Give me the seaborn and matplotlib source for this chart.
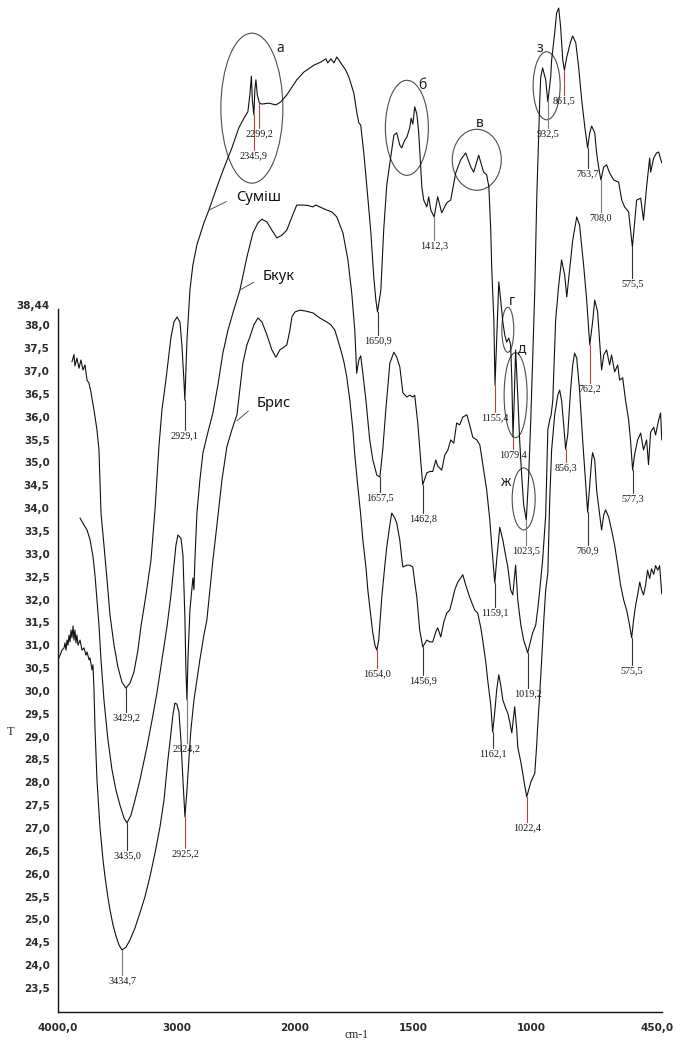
import numpy as np
import matplotlib
matplotlib.use("Agg")
import matplotlib.pyplot as plt
from matplotlib.patches import Ellipse
from matplotlib.transforms import ScaledTranslation
import seaborn as sns

# ---- spectra: wavenumber (cm-1) and T ----
sumish_wn = [3882, 3865, 3857, 3840, 3823, 3806, 3789, 3772, 3755, 3738, 3722, 3696, 3671, 3654,
             3637, 3612, 3586, 3561, 3527, 3494, 3460, 3426, 3392, 3359, 3325, 3300, 3257, 3215,
             3181, 3148, 3122, 3089, 3046, 3021, 2995, 2970, 2954, 2937, 2929, 2911, 2886, 2861,
             2827, 2793, 2768, 2726, 2667, 2599, 2532, 2473, 2430, 2397, 2380, 2367, 2359, 2346,
             2338, 2329, 2317, 2299, 2278, 2219, 2160, 2118, 2068, 2025, 1992, 1962, 1920, 1890,
             1869, 1861, 1848, 1835, 1823, 1806, 1785, 1772, 1751, 1738, 1730, 1722, 1709, 1696,
             1679, 1667, 1658, 1651, 1637, 1625, 1612, 1595, 1582, 1570, 1557, 1549, 1536, 1527,
             1515, 1509, 1502, 1494, 1485, 1477, 1464, 1456, 1443, 1435, 1426, 1412, 1397, 1380,
             1359, 1342, 1321, 1300, 1279, 1257, 1245, 1224, 1203, 1190, 1181, 1173, 1169, 1160,
             1155, 1148, 1139, 1131, 1122, 1114, 1106, 1097, 1089, 1084, 1079, 1074, 1068, 1059,
             1051, 1042, 1034, 1023, 1013, 1004, 996, 987, 979, 966, 962, 954, 941, 932, 920, 916,
             903, 895, 886, 878, 869, 862, 852, 836, 827, 814, 802, 789, 776, 764, 755, 747, 734,
             726, 717, 708, 696, 684, 671, 654, 633, 620, 608, 591, 575, 557, 540, 528, 515, 502,
             498, 485, 473, 464, 451]
sumish_t = [37.29, 37.45, 37.20, 37.37, 37.15, 37.33, 37.11, 37.22, 36.89, 36.82, 36.63, 36.23,
            35.80, 35.36, 33.98, 33.28, 32.52, 31.75, 31.09, 30.61, 30.28, 30.15, 30.26, 30.50,
            30.98, 31.49, 32.19, 32.95, 34.05, 35.43, 36.24, 36.89, 37.83, 38.16, 38.27, 38.16,
            37.66, 36.89, 36.45, 37.77, 38.86, 39.41, 39.85, 40.13, 40.33, 40.61, 41.05, 41.53,
            41.97, 42.41, 42.62, 42.76, 43.13, 43.54, 43.02, 42.69, 43.24, 43.46, 43.13, 42.95,
            42.93, 42.95, 42.91, 42.98, 43.13, 43.30, 43.46, 43.63, 43.78, 43.85, 43.92, 43.83,
            43.92, 43.83, 43.96, 43.83, 43.67, 43.52, 43.17, 42.73, 42.52, 42.47, 41.86, 41.12,
            40.11, 39.15, 38.64, 38.38, 38.86, 40.17, 41.16, 41.77, 42.25, 42.30, 42.03, 41.97,
            42.14, 42.21, 42.41, 42.62, 42.49, 42.87, 42.71, 42.30, 41.12, 40.83, 40.68, 40.90,
            40.61, 40.46, 40.90, 40.55, 40.77, 40.83, 41.42, 41.71, 41.86, 41.55, 41.44, 41.81,
            41.44, 41.38, 41.12, 40.17, 39.36, 38.21, 36.78, 37.77, 39.04, 38.64, 38.16, 37.88,
            37.72, 37.81, 37.66, 36.89, 35.64, 36.45, 37.55, 36.56, 35.58, 34.77, 34.16, 33.83,
            34.77, 36.02, 37.33, 38.86, 40.83, 43.02, 43.52, 43.72, 43.46, 42.98, 43.52, 43.89,
            44.49, 44.92, 45.03, 44.62, 43.89, 43.67, 43.96, 44.29, 44.42, 44.27, 43.74, 43.02,
            42.43, 41.97, 42.30, 42.45, 42.30, 41.86, 41.53, 41.27, 41.55, 41.60, 41.42, 41.27,
            41.22, 40.83, 40.68, 40.57, 39.80, 40.83, 40.87, 40.39, 41.12, 41.75, 41.44, 41.75,
            41.86, 41.88, 41.64]

bkuk_wn = [3814, 3781, 3755, 3730, 3705, 3688, 3671, 3654, 3637, 3612, 3578, 3544, 3511, 3477,
           3443, 3418, 3384, 3350, 3308, 3249, 3198, 3165, 3122, 3080, 3046, 3021, 3004, 2987,
           2962, 2945, 2928, 2920, 2911, 2903, 2886, 2869, 2861, 2852, 2844, 2827, 2802, 2776,
           2734, 2692, 2650, 2608, 2565, 2523, 2464, 2405, 2354, 2312, 2278, 2236, 2194, 2152,
           2110, 2068, 2025, 1992, 1966, 1945, 1924, 1911, 1895, 1865, 1844, 1823, 1797, 1776,
           1760, 1747, 1739, 1730, 1722, 1713, 1700, 1684, 1671, 1654, 1641, 1629, 1616, 1599,
           1582, 1570, 1557, 1544, 1527, 1515, 1502, 1494, 1481, 1468, 1460, 1443, 1430, 1418,
           1405, 1397, 1380, 1367, 1354, 1342, 1329, 1317, 1304, 1291, 1274, 1262, 1249, 1232,
           1219, 1203, 1190, 1177, 1169, 1156, 1148, 1135, 1122, 1114, 1101, 1089, 1080, 1068,
           1059, 1046, 1034, 1017, 1004, 996, 983, 975, 966, 954, 941, 932, 924, 918, 911, 899,
           886, 874, 861, 852, 840, 827, 810, 798, 781, 768, 755, 743, 734, 722, 705, 696, 684,
           671, 663, 650, 637, 629, 616, 604, 591, 583, 574, 566, 553, 540, 528, 515, 507, 498,
           485, 477, 464, 456, 451]
bkuk_t = [33.87, 33.72, 33.61, 33.40, 33.04, 32.63, 32.08, 31.53, 30.77, 29.89, 29.01, 28.36,
          27.92, 27.59, 27.31, 27.20, 27.37, 27.70, 28.14, 28.86, 29.56, 30.04, 30.77, 31.49,
          32.19, 32.84, 33.28, 33.50, 33.43, 33.06, 31.64, 30.55, 29.89, 30.77, 31.86, 32.34,
          32.56, 32.30, 32.95, 33.98, 34.70, 35.30, 35.75, 36.17, 36.78, 37.48, 37.98, 38.36,
          38.86, 39.58, 40.11, 40.33, 40.41, 40.35, 40.17, 40.00, 40.06, 40.17, 40.46, 40.72,
          40.72, 40.71, 40.68, 40.72, 40.68, 40.61, 40.57, 40.46, 40.11, 39.52, 38.80, 37.98,
          37.04, 37.33, 37.42, 37.04, 36.45, 35.58, 35.15, 34.81, 34.77, 35.36, 36.24, 37.26,
          37.50, 37.39, 37.18, 36.61, 36.52, 36.56, 36.52, 36.56, 35.95, 35.08, 34.60, 34.86,
          34.89, 34.89, 35.14, 35.01, 34.92, 35.25, 35.36, 35.58, 35.51, 35.95, 35.91, 36.08,
          36.13, 35.91, 35.64, 35.58, 35.47, 34.92, 34.48, 33.83, 33.28, 32.45, 32.95, 33.67,
          33.39, 33.16, 32.80, 32.30, 32.19, 32.84, 32.08, 31.53, 31.20, 30.92, 31.20, 31.36,
          31.53, 31.86, 32.30, 32.95, 33.94, 35.80, 36.02, 36.13, 36.45, 38.21, 38.97, 39.52,
          39.19, 38.71, 39.30, 39.95, 40.46, 40.28, 39.41, 38.64, 37.66, 38.16, 38.64, 38.39,
          37.11, 37.44, 37.55, 37.22, 37.44, 37.07, 37.22, 36.89, 36.94, 36.45, 36.02, 35.58,
          34.92, 35.25, 35.58, 35.73, 35.36, 35.58, 35.04, 35.75, 35.86, 35.69, 36.02, 36.17,
          35.58]

brys_wn = [4000, 3983, 3966, 3949, 3941, 3932, 3924, 3916, 3907, 3899, 3890, 3882, 3873, 3865,
           3857, 3848, 3840, 3831, 3814, 3797, 3781, 3764, 3755, 3738, 3730, 3713, 3705, 3696,
           3688, 3671, 3646, 3620, 3603, 3578, 3561, 3536, 3511, 3485, 3460, 3426, 3392, 3350,
           3308, 3266, 3224, 3181, 3139, 3105, 3072, 3046, 3030, 3013, 2996, 2979, 2962, 2945,
           2928, 2911, 2895, 2878, 2852, 2827, 2802, 2768, 2743, 2717, 2692, 2658, 2616, 2574,
           2532, 2489, 2439, 2405, 2380, 2346, 2312, 2278, 2236, 2194, 2160, 2127, 2093, 2068,
           2042, 2025, 2000, 1979, 1954, 1924, 1895, 1865, 1848, 1831, 1819, 1806, 1793, 1781,
           1768, 1755, 1747, 1734, 1722, 1713, 1700, 1692, 1680, 1671, 1662, 1654, 1646, 1633,
           1620, 1612, 1599, 1591, 1578, 1570, 1557, 1549, 1544, 1527, 1515, 1502, 1494, 1485,
           1473, 1460, 1443, 1430, 1418, 1405, 1397, 1384, 1371, 1359, 1346, 1333, 1325, 1312,
           1300, 1291, 1279, 1262, 1249, 1241, 1228, 1215, 1207, 1194, 1186, 1173, 1165, 1156,
           1148, 1139, 1131, 1122, 1110, 1101, 1093, 1084, 1076, 1072, 1063, 1059, 1046, 1038,
           1030, 1021, 1013, 1004, 996, 987, 979, 975, 966, 958, 949, 941, 932, 924, 916, 903,
           890, 882, 874, 865, 857, 848, 836, 827, 819, 810, 798, 785, 772, 764, 755, 747, 743,
           734, 726, 713, 705, 696, 688, 675, 663, 650, 637, 625, 612, 599, 587, 578, 570, 561,
           553, 544, 536, 528, 519, 511, 502, 494, 485, 477, 468, 460, 451]
brys_t = [30.77, 30.87, 30.98, 31.03, 31.14, 30.98, 31.20, 31.09, 31.31, 31.16, 31.42, 31.25,
          31.51, 31.20, 31.42, 31.14, 31.31, 31.09, 31.20, 30.98, 31.03, 30.87, 30.94, 30.77,
          30.81, 30.55, 30.66, 30.11, 29.30, 28.14, 27.11, 26.39, 26.02, 25.56, 25.30, 24.97,
          24.73, 24.53, 24.42, 24.48, 24.64, 24.90, 25.23, 25.58, 26.02, 26.54, 27.11, 27.70,
          28.58, 29.17, 29.56, 29.82, 29.80, 29.63, 29.01, 28.14, 27.33, 27.92, 28.58, 29.23,
          29.89, 30.33, 30.77, 31.31, 31.64, 32.30, 32.95, 33.72, 34.70, 35.43, 35.80, 36.13,
          37.26, 37.66, 37.83, 38.10, 38.25, 38.16, 37.88, 37.55, 37.39, 37.55, 37.61, 37.66,
          37.98, 38.27, 38.38, 38.42, 38.40, 38.36, 38.25, 38.16, 38.10, 37.98, 37.77, 37.55,
          37.29, 36.96, 36.45, 35.80, 35.25, 34.55, 33.94, 33.39, 32.80, 32.30, 31.75, 31.36,
          31.09, 30.98, 31.20, 32.14, 32.84, 33.24, 33.72, 33.98, 33.87, 33.76, 33.39, 33.00,
          32.80, 32.84, 32.84, 32.80, 32.47, 32.14, 31.42, 31.05, 31.20, 31.16, 31.16, 31.38,
          31.47, 31.27, 31.60, 31.79, 31.86, 32.12, 32.30, 32.47, 32.56, 32.63, 32.41, 32.14,
          31.97, 31.86, 31.79, 31.47, 31.20, 30.72, 30.33, 29.78, 29.19, 29.63, 30.11, 30.44,
          30.22, 29.89, 29.71, 29.60, 29.41, 29.17, 29.56, 29.74, 29.23, 28.86, 28.53, 28.29,
          28.03, 27.77, 27.92, 28.09, 28.18, 28.29, 28.91, 29.30, 30.04, 30.77, 31.64, 32.30,
          32.67, 34.27, 35.36, 36.13, 36.56, 36.67, 36.45, 35.91, 35.38, 35.69, 36.67, 37.22,
          37.48, 37.37, 36.67, 35.58, 34.59, 34.00, 34.59, 35.14, 35.30, 35.14, 34.48, 33.94,
          33.61, 33.94, 34.05, 33.89, 33.61, 33.28, 32.84, 32.41, 32.08, 31.85, 31.53, 31.25,
          31.64, 31.97, 32.19, 32.47, 32.30, 32.19, 32.41, 32.73, 32.55, 32.76, 32.64, 32.83,
          32.73, 32.83, 32.21]

# ---- marked peaks: point on the curve and printed value ----
sumish_pk_wn = [3426, 2929, 2346, 2299, 1651, 1412, 1155, 1079, 1023, 932, 862, 764, 708, 575]
sumish_pk_t = [30.15, 36.45, 42.69, 42.95, 38.38, 40.46, 36.78, 35.64, 33.83, 42.98, 43.67,
               41.97, 41.27, 39.80]
sumish_pk_txt = ["3429,2", "2929,1", "2345,9", "2299,2", "1650,9", "1412,3", "1155,4", "1079,4",
                 "1023,5", "932,5", "861,5", "763,7", "708,0", "575,5"]

bkuk_pk_wn = [3418, 2911, 1641, 1460, 1156, 1017, 755, 574]
bkuk_pk_t = [27.20, 29.89, 34.77, 34.60, 32.45, 30.92, 37.66, 34.92]
bkuk_pk_txt = ["3435,0", "2924,2", "1657,5", "1462,8", "1159,1", "1019,2", "762,2", "577,3"]

brys_pk_wn = [3460, 2928, 1654, 1460, 1165, 1021, 857, 764, 578]
brys_pk_t = [24.42, 27.33, 30.98, 31.05, 29.19, 27.77, 35.38, 34.00, 31.25]
brys_pk_txt = ["3434,7", "2925,2", "1654,0", "1456,9", "1162,1", "1022,4", "856,3", "760,9",
               "575,5"]

# circled regions of the mixture spectrum (letter, centre wn, centre T)
zone_txt = ["а", "б", "в", "г", "д", "ж", "з"]
zone_wn = [2363, 1527, 1232, 1101, 1068, 1034, 937]
zone_t = [42.84, 42.41, 41.71, 37.99, 36.56, 34.29, 43.33]

x_ticks = [4000, 3000, 2000, 1500, 1000, 450]
x_tick_txt = ["4000,0", "3000", "2000", "1500", "1000", "450,0"]
y_ticks = [23.5 + 0.5 * i for i in range(30)] + [38.44]
y_tick_txt = [f"{v:.1f}".replace(".", ",") for v in y_ticks[:-1]] + ["38,44"]

# ---- styling (not data) ----
RED, DARK, GREY = "#b8433c", "#333333", "#7a7a7a"
sumish_drop = [0.52, 0.65, 0.77, 0.54, 0.50, 0.50, 0.59, 0.25, 0.55, 0.57, 0.54, 0.44, 0.70, 0.67]
sumish_col = [DARK, DARK, RED, RED, DARK, GREY, RED, RED, GREY, GREY, RED, DARK, GREY, DARK]
bkuk_drop = [0.59, 0.95, 0.33, 0.62, 0.53, 0.77, 0.83, 0.50]
bkuk_col = [DARK, GREY, DARK, DARK, DARK, DARK, RED, DARK]
brys_drop = [0.55, 0.68, 0.39, 0.61, 0.35, 0.54, 0.29, 0.72, 0.59]
brys_col = [GREY, RED, RED, DARK, DARK, RED, RED, DARK, DARK]
zone_size = [(0.62, 1.50), (0.43, 0.95), (0.49, 0.61), (0.12, 0.45), (0.23, 0.85), (0.23, 0.62),
             (0.27, 0.68)]  # inches
zone_lbl_off = [(28, -60), (15, -42), (3, -36), (4, -28), (6, -47), (-18, -16), (-7, -37)]  # px


# instrument-style axis: 4000-2000 compressed 2x relative to 2000-450
def fwd(w):
    w = np.asarray(w, dtype=float)
    return np.where(w >= 2000, 237 + (w - 2000) * 0.1185, 237 + (w - 2000) * 0.237)


def inv(u):
    u = np.asarray(u, dtype=float)
    return np.where(u >= 237, 2000 + (u - 237) / 0.1185, 2000 + (u - 237) / 0.237)


sns.set_style("white")
plt.rcParams["font.family"] = ["DejaVu Sans"]

fig = plt.figure(figsize=(6.77, 10.43), dpi=100)
ax = fig.add_axes([58 / 677, 31 / 1043, 604 / 677, 1012 / 1043])
ax.set_xscale("function", functions=(fwd, inv))

for wn, t in [(sumish_wn, sumish_t), (bkuk_wn, bkuk_t), (brys_wn, brys_t)]:
    sns.lineplot(x=wn, y=t, ax=ax, sort=False, estimator=None, color="#111111", lw=0.8)

ax.set_xlim(4000, 450)
ax.set_ylim(23.062, 45.207)

serif = "Liberation Serif"
for pw, pt, txt, drop, col in [
    (sumish_pk_wn, sumish_pk_t, sumish_pk_txt, sumish_drop, sumish_col),
    (bkuk_pk_wn, bkuk_pk_t, bkuk_pk_txt, bkuk_drop, bkuk_col),
    (brys_pk_wn, brys_pk_t, brys_pk_txt, brys_drop, brys_col),
]:
    for x, y, s, d, c in zip(pw, pt, txt, drop, col):
        ax.plot([x, x], [y, y - d], color=c, lw=0.8)
        ax.annotate(s, (x, y - d), xytext=(0, -1), textcoords="offset points",
                    ha="center", va="top", fontsize=7.3, family=serif, color="#1a1a1a")

# circled zones
for s, x, y, (w, h), (dx, dy) in zip(zone_txt, zone_wn, zone_t, zone_size, zone_lbl_off):
    tr = fig.dpi_scale_trans + ScaledTranslation(x, y, ax.transData)
    ax.add_patch(Ellipse((0, 0), w, h, transform=tr, fill=False, ec="#4d4d4d", lw=0.8))
    ax.annotate(s, (x, y), xytext=(dx * 0.72, -dy * 0.72), textcoords="offset points",
                ha="center", va="center", fontsize=10, family="Noto Sans", color="#222222")

# curve names with leader lines
names = ["Суміш", "Бкук", "Брис"]
name_anchor = [(2726, 40.61), (2464, 38.86), (2489, 36.0)]
name_off = [(19.5, 9.4), (16.6, 9.4), (14.4, 12.2)]
for s, xy, off in zip(names, name_anchor, name_off):
    ax.annotate(s, xy, xytext=off, textcoords="offset points", ha="left", va="center",
                fontsize=10.5, family="Noto Sans", color="#111111",
                arrowprops=dict(arrowstyle="-", color="#555555", lw=0.7,
                                relpos=(0, 0.5), shrinkA=5, shrinkB=0))

# axes decoration
sns.despine(ax=ax, top=True, right=True)
ax.spines["left"].set_bounds(23.062, 38.44)
for sp in ("left", "bottom"):
    ax.spines[sp].set_color("#111111")
    ax.spines[sp].set_linewidth(1.0)

ax.set_xticks(x_ticks)
ax.set_xticklabels(x_tick_txt)
ax.set_yticks(y_ticks)
ax.set_yticklabels(y_tick_txt)
ax.minorticks_off()
ax.tick_params(axis="x", direction="out", length=4, width=0.9, pad=4, labelsize=7.5,
               colors="#111111")
ax.tick_params(axis="y", direction="out", length=4, width=0.9, pad=2, labelsize=7.5,
               colors="#111111")
for lbl in ax.get_xticklabels() + ax.get_yticklabels():
    lbl.set_fontweight("bold")
    lbl.set_color("#2b2b2b")
for lbl in ax.get_yticklabels():
    lbl.set_va("baseline")
# the last x label sits tight against the right edge: nudge it left
last = ax.get_xticklabels()[-1]
last.set_transform(last.get_transform() + ScaledTranslation(-5 / 100, 0, fig.dpi_scale_trans))

ax.set_xlabel("cm-1", family=serif, fontsize=8.5)
ax.xaxis.set_label_coords(0.495, -0.017)
ax.set_ylabel("T", family=serif, fontsize=9, rotation=0)
ax.yaxis.set_label_coords(-0.078, 0.271)
ax.grid(False)

fig.savefig("out.png", dpi=100)
